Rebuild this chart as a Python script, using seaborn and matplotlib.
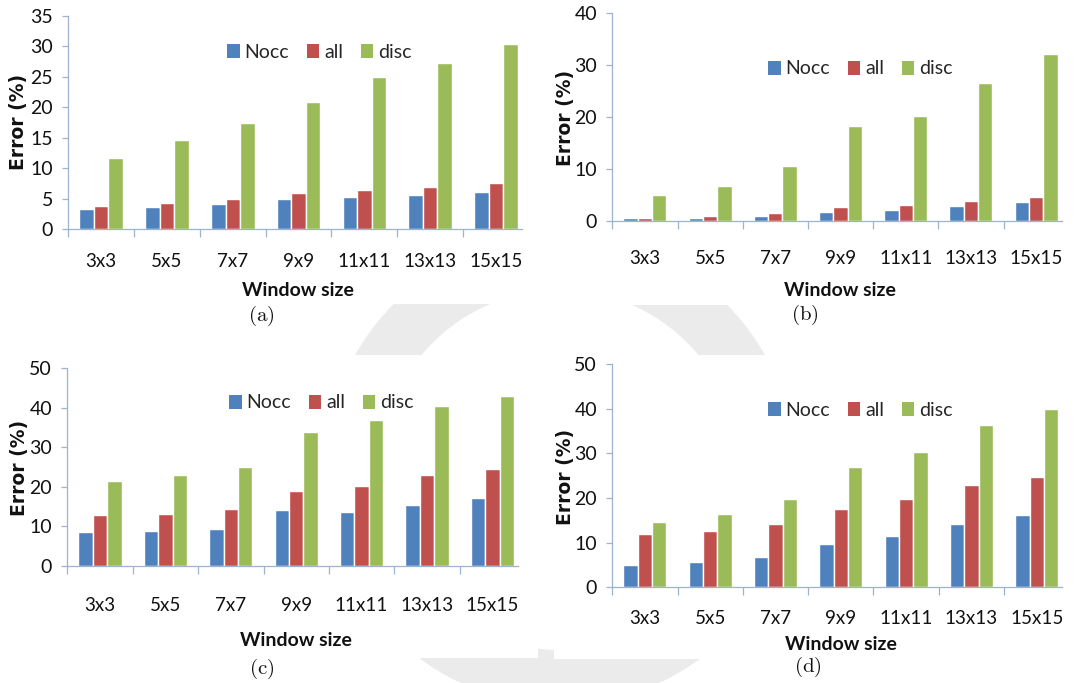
import numpy as np
import pandas as pd
import seaborn as sns
import matplotlib
matplotlib.use("Agg")
import matplotlib.pyplot as plt
from matplotlib.patches import Rectangle, Wedge, Patch
from matplotlib.ticker import FixedLocator

# ---- data -------------------------------------------------------------
windows = ["3x3", "5x5", "7x7", "9x9", "11x11", "13x13", "15x15"]
methods = ["Nocc", "all", "disc"]

a_nocc = [3.3, 3.7, 4.2, 5.0, 5.25, 5.7, 6.1]
a_all = [3.8, 4.3, 5.0, 5.95, 6.4, 7.0, 7.6]
a_disc = [11.75, 14.6, 17.5, 20.8, 24.9, 27.2, 30.3]

b_nocc = [0.5, 0.65, 0.95, 1.8, 2.2, 2.95, 3.6]
b_all = [0.65, 0.95, 1.5, 2.7, 3.1, 3.9, 4.7]
b_disc = [5.1, 6.8, 10.5, 18.2, 20.2, 26.5, 32.1]

c_nocc = [8.5, 8.8, 9.4, 14.1, 13.7, 15.4, 17.1]
c_all = [12.9, 13.2, 14.3, 19.0, 20.3, 23.1, 24.6]
c_disc = [21.6, 22.9, 25.0, 33.8, 36.8, 40.4, 43.0]

d_nocc = [4.9, 5.75, 6.7, 9.7, 11.4, 14.25, 16.1]
d_all = [11.9, 12.6, 14.1, 17.5, 19.8, 22.8, 24.8]
d_disc = [14.6, 16.5, 19.8, 26.9, 30.4, 36.3, 39.85]

panel_letters = ["(a)", "(b)", "(c)", "(d)"]
y_ticks = [list(range(0, 36, 5)), list(range(0, 41, 10)),
           list(range(0, 51, 10)), list(range(0, 51, 10))]

# ---- style -------------------------------------------------------------
sns.set_theme(style="white")
plt.rcParams["font.family"] = ["Lato", "DejaVu Sans"]
plt.rcParams["mathtext.fontset"] = "cm"

palette = {"Nocc": "#4F81BD", "all": "#C0504D", "disc": "#9BBB59"}
axis_col = "#9DB3CF"
text_col = "#111111"

W, H = 1084, 683
fig = plt.figure(figsize=(W / 100, H / 100), dpi=100)
fig.patch.set_facecolor("white")


def fx(x):
    return x / W


def fy(y):
    return 1 - y / H


# faint background emblem behind the panels
emblem = Wedge((560, H - 470), 235, 0, 360, width=55, facecolor="#ebebeb",
               edgecolor="none", transform=None, zorder=0)
fig.patches.append(emblem)

# white panel backgrounds (pixel boxes)
for (x0, y0, x1, y1) in [(0, 0, 553, 304), (553, 0, 1084, 305),
                         (8, 355, 538, 658), (554, 355, 1084, 659)]:
    fig.patches.append(Rectangle((x0, H - y1), x1 - x0, y1 - y0, facecolor="white",
                                 edgecolor="none", transform=None, zorder=1))

# axes geometry: left px, y(0) px, y(top) px, px per category, right xlim
geom = [
    (68.3, 229.3, 15.7, 65.8, 6.39),
    (612.3, 221.0, 13.3, 65.2, 6.40),
    (67.3, 566.0, 368.3, 65.4, 6.39),
    (612.3, 587.3, 364.0, 65.3, 6.38),
]
series = [(a_nocc, a_all, a_disc), (b_nocc, b_all, b_disc),
          (c_nocc, c_all, c_disc), (d_nocc, d_all, d_disc)]
xtick_pad = [17, 21, 22, 16.5]
legend_pos = [(227, 52), (768, 69), (229, 403), (768, 410)]
xlabel_pos = [(298, 291), (840, 291), (296, 641), (841, 645)]
ylabel_pos = [(19, 122), (565, 118), (20, 468), (565, 477)]
letter_pos = [(261, 316), (805, 315), (262, 669), (808, 667)]

for i, ((left, y0, ytop, step, xr), vals) in enumerate(zip(geom, series)):
    width_px = (xr + 0.5) * step
    ax = fig.add_axes([fx(left), fy(y0), width_px / W, (y0 - ytop) / H])
    ax.set_zorder(2)
    ax.patch.set_alpha(0)

    df = pd.DataFrame({
        "window": windows * 3,
        "method": np.repeat(methods, len(windows)),
        "error": np.concatenate(vals),
    })
    sns.barplot(data=df, x="window", y="error", hue="method", order=windows,
                hue_order=methods, palette=palette, width=0.66, saturation=1,
                errorbar=None, ax=ax, legend=False)

    ax.set_xlim(-0.5, xr)
    ax.set_ylim(0, y_ticks[i][-1])
    ax.set_yticks(y_ticks[i])
    ax.set_yticklabels([str(t) for t in y_ticks[i]], fontsize=14, color=text_col)
    ax.tick_params(axis="y", left=True, length=4, width=0.9, color=axis_col, pad=7)

    ax.set_xticks(range(len(windows)))
    ax.set_xticklabels(windows, fontsize=13.5, color=text_col)
    ax.tick_params(axis="x", which="major", length=0, pad=xtick_pad[i])
    ax.xaxis.set_minor_locator(FixedLocator(np.arange(-0.5, 7, 1.0)))
    ax.tick_params(axis="x", which="minor", bottom=True, length=6, width=0.9,
                   color=axis_col, direction="out")

    ax.set_xlabel("")
    ax.set_ylabel("")
    for s in ["top", "right"]:
        ax.spines[s].set_visible(False)
    for s in ["left", "bottom"]:
        ax.spines[s].set_color(axis_col)
        ax.spines[s].set_linewidth(0.9)

    handles = [Patch(facecolor=palette[m], edgecolor="none") for m in methods]
    lx, ly = legend_pos[i]
    ax.legend(handles, methods, loc="center left",
              bbox_to_anchor=(fx(lx), fy(ly)), bbox_transform=fig.transFigure,
              frameon=False, ncol=3, fontsize=14, handlelength=0.65,
              handleheight=0.75, handletextpad=0.25, columnspacing=0.9,
              borderpad=0, borderaxespad=0)

    xl, yl = xlabel_pos[i]
    fig.text(fx(xl), fy(yl), "Window size", ha="center", va="center",
             fontsize=14, fontweight="bold", color=text_col, zorder=3)
    xl, yl = ylabel_pos[i]
    fig.text(fx(xl), fy(yl), "Error (%)", ha="center", va="center", rotation=90,
             fontsize=13.5, fontweight="bold", family="DejaVu Sans",
             color=text_col, zorder=3)
    xl, yl = letter_pos[i]
    fig.text(fx(xl), fy(yl), r"$\mathrm{" + panel_letters[i] + "}$",
             ha="center", va="center", fontsize=15, color=text_col, zorder=3)

fig.savefig("out.png", dpi=100)
